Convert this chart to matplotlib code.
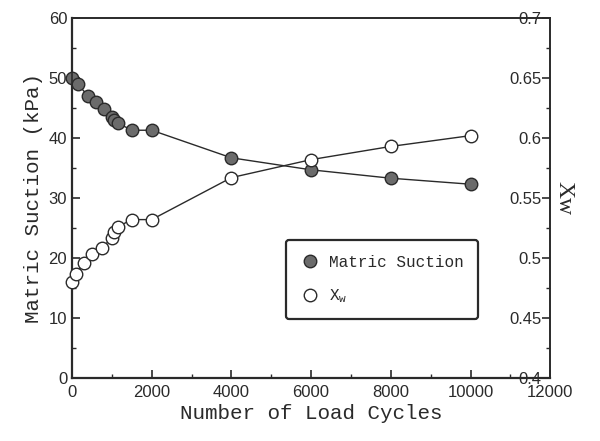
import matplotlib
matplotlib.use("Agg")
import matplotlib.pyplot as plt
from matplotlib.ticker import MultipleLocator
from matplotlib.lines import Line2D

plt.rcParams['font.family'] = ['Liberation Sans', 'DejaVu Sans']
plt.rcParams['mathtext.fontset'] = 'custom'
plt.rcParams['mathtext.rm'] = 'Liberation Mono'
plt.rcParams['mathtext.it'] = 'Liberation Mono'

# Matric suction (left axis)
cycles_suction = [0, 150, 400, 600, 800, 1000, 1050, 1150, 1500, 2000, 4000, 6000, 8000, 10000]
suction = [50, 49, 47, 46, 44.8, 43.5, 43, 42.5, 41.3, 41.3, 36.7, 34.7, 33.3, 32.3]

# Xw (right axis)
cycles_xw = [0, 100, 300, 500, 750, 1000, 1050, 1150, 1500, 2000, 4000, 6000, 8000, 10000]
xw = [0.480, 0.487, 0.496, 0.503, 0.508, 0.517, 0.522, 0.526, 0.532, 0.532,
      0.567, 0.582, 0.593, 0.602]

ink = '#2a2a2a'
label_font = ['Liberation Mono', 'DejaVu Sans Mono']

fig = plt.figure(figsize=(6, 4.41), dpi=100)
ax = fig.add_axes([0.12, 0.143, 0.797, 0.816])
ax2 = ax.twinx()

ax.plot(cycles_suction, suction, '-o', color=ink, lw=1.0, ms=9,
        mfc='#6b6b6b', mec=ink, mew=1.0, zorder=3, clip_on=False)
ax2.plot(cycles_xw, xw, '-o', color=ink, lw=1.0, ms=9,
         mfc='white', mec=ink, mew=1.0, zorder=3, clip_on=False)

ax.set_xlim(0, 12000)
ax.set_ylim(0, 60)
ax2.set_ylim(0.4, 0.7)

ax.xaxis.set_major_locator(MultipleLocator(2000))
ax.xaxis.set_minor_locator(MultipleLocator(1000))
ax.yaxis.set_major_locator(MultipleLocator(10))
ax.yaxis.set_minor_locator(MultipleLocator(5))
ax2.yaxis.set_minor_locator(MultipleLocator(0.025))
ax2.set_yticks([0.4, 0.45, 0.5, 0.55, 0.6, 0.65, 0.7])
ax2.set_yticklabels(['0.4', '0.45', '0.5', '0.55', '0.6', '0.65', '0.7'])

ax.tick_params(axis='both', which='major', direction='in', length=6, width=1.2,
               labelsize=12, colors=ink)
ax.tick_params(axis='both', which='minor', direction='in', length=3, width=1.0,
               colors=ink)
ax.tick_params(axis='x', pad=5)
ax2.tick_params(axis='y', which='major', direction='in', length=6, width=1.2,
                labelsize=12, colors=ink, pad=-6)
ax2.tick_params(axis='y', which='minor', direction='in', length=3, width=1.0,
                colors=ink)
for lab in ax2.get_yticklabels():
    lab.set_horizontalalignment('right')

for a in (ax, ax2):
    for s in a.spines.values():
        s.set_color(ink)
        s.set_linewidth(1.2)
ax.spines['left'].set_linewidth(1.6)
ax.spines['bottom'].set_linewidth(1.6)

ax.set_xlabel('Number of Load Cycles', fontsize=15, color=ink, labelpad=3,
              family=label_font)
ax.set_ylabel('Matric Suction (kPa)', fontsize=15, color=ink, labelpad=4,
              family=label_font)
ax2.set_ylabel('Xw', fontsize=17, color=ink, rotation=270, labelpad=14,
               family=['Liberation Serif', 'DejaVu Serif'])

handles = [
    Line2D([], [], ls='none', marker='o', ms=9, mfc='#6b6b6b', mec=ink),
    Line2D([], [], ls='none', marker='o', ms=9, mfc='white', mec=ink),
]
leg = ax.legend(handles, ['Matric Suction', 'X$_w$'], loc='upper left',
                bbox_to_anchor=(0.43, 0.405), frameon=True,
                prop={'family': label_font, 'size': 11.5},
                fancybox=True, edgecolor=ink, framealpha=1, borderpad=0.9,
                labelspacing=1.1, handletextpad=0.6, handlelength=1.2)
leg.get_frame().set_linewidth(1.6)
for t in leg.get_texts():
    t.set_color(ink)

fig.savefig('out.png', dpi=100)
